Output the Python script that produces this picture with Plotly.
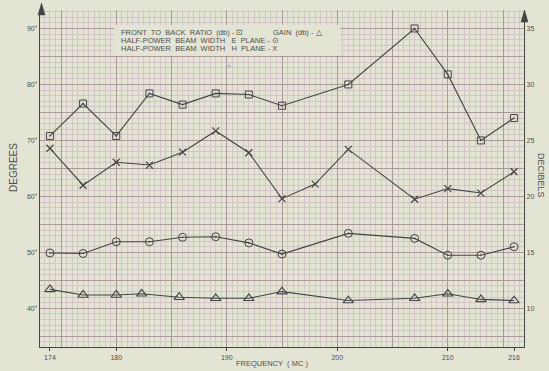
import plotly.graph_objects as go

# ---------------- data ----------------
FREQ_FBR = [174, 177, 180, 183, 186, 189, 192, 195, 201, 207, 210, 213, 216]
FBR_DB = [25.4, 28.3, 25.4, 29.2, 28.2, 29.2, 29.1, 28.1, 30.0, 35.0, 30.9, 25.0, 27.0]

FREQ_GAIN = [174, 177, 180, 182.3, 185.7, 189, 192, 195, 201, 207, 210, 213, 216]
GAIN_DB = [11.7, 11.2, 11.2, 11.3, 11.0, 10.9, 10.9, 11.5, 10.7, 10.9, 11.3, 10.8, 10.7]

FREQ_E = [174, 177, 180, 183, 186, 189, 192, 195, 201, 207, 210, 213, 216]
E_PLANE_DEG = [49.9, 49.8, 51.9, 51.9, 52.7, 52.8, 51.7, 49.7, 53.4, 52.5, 49.5, 49.5, 51.0]

FREQ_H = [174, 177, 180, 183, 186, 189, 192, 195, 198, 201, 207, 210, 213, 216]
H_PLANE_DEG = [68.6, 62.0, 66.1, 65.6, 67.9, 71.7, 67.8, 59.6, 62.2, 68.4, 59.5, 61.4, 60.6, 64.4]

FREQ_TICKS = [174, 180, 190, 200, 210, 216]
DEG_TICKS = [40, 50, 60, 70, 80, 90]
DB_TICKS = [10, 15, 20, 25, 30, 35]

# ---------------- styling ----------------
W, H = 549, 371
L, R, T, B = 40, 25, 10, 24
PAPER = "#e4e4d4"
INK = "#444444"
TXT = "#4e4e4e"
MINOR = "#d2c6c6"
MAJOR = "#ab999b"
FONT = "Liberation Sans, Arial, sans-serif"

X_RANGE = [173.1, 216.9]
Y_RANGE = [33.1, 93.3]
Y2_RANGE = [(Y_RANGE[0] - 20) / 2, (Y_RANGE[1] - 20) / 2]

PW, PH = W - L - R, H - T - B


def px(x):
    return (x - L) / PW


def py(y):
    return (H - B - y) / PH


fig = go.Figure()

line_style = dict(color=INK, width=1.1)

fig.add_trace(go.Scatter(x=FREQ_FBR, y=FBR_DB, yaxis="y2", mode="lines+markers",
                         line=line_style,
                         marker=dict(symbol="square-open-dot", size=7, color=INK,
                                     line=dict(color=INK, width=1))))
fig.add_trace(go.Scatter(x=FREQ_GAIN, y=GAIN_DB, yaxis="y2", mode="lines+markers",
                         line=line_style,
                         marker=dict(symbol="triangle-up-open", size=9, color=INK,
                                     line=dict(color=INK, width=1.1))))
fig.add_trace(go.Scatter(x=FREQ_E, y=E_PLANE_DEG, mode="lines+markers",
                         line=line_style,
                         marker=dict(symbol="circle-open-dot", size=8, color=INK,
                                     line=dict(color=INK, width=1))))
fig.add_trace(go.Scatter(x=FREQ_H, y=H_PLANE_DEG, mode="lines+markers",
                         line=line_style,
                         marker=dict(symbol="x-thin-open", size=7, color=INK,
                                     line=dict(color=INK, width=1.2))))
# carrier for the graph-paper grid axis
fig.add_trace(go.Scatter(x=[None], y=[None], xaxis="x2", mode="markers",
                         hoverinfo="skip", showlegend=False))

tickfont = dict(family=FONT, size=7, color=TXT)
grid_y_vals = list(range(35, 95, 5))
grid_y_text = [f"{v}°" if v in DEG_TICKS else "" for v in grid_y_vals]

fig.update_layout(
    width=W, height=H,
    margin=dict(l=L, r=R, t=T, b=B),
    paper_bgcolor=PAPER, plot_bgcolor=PAPER,
    showlegend=False,
    xaxis=dict(range=X_RANGE, tickmode="array", tickvals=FREQ_TICKS,
               ticktext=[str(v) for v in FREQ_TICKS], showgrid=False,
               zeroline=False, showline=True, linecolor=INK, linewidth=1.2,
               ticks="outside", ticklen=3, tickcolor=INK, tickfont=tickfont),
    xaxis2=dict(range=X_RANGE, overlaying="x", anchor="y", side="bottom",
                tickmode="linear", tick0=0, dtick=5, showgrid=True,
                gridcolor=MAJOR, gridwidth=0.9, showticklabels=False, ticks="",
                zeroline=False, showline=False,
                minor=dict(tickmode="linear", tick0=0, dtick=0.5, showgrid=True,
                           gridcolor=MINOR, gridwidth=0.5, ticks="")),
    yaxis=dict(range=Y_RANGE, tickmode="array", tickvals=grid_y_vals,
               ticktext=grid_y_text, showgrid=True, gridcolor=MAJOR, gridwidth=0.9,
               zeroline=False, showline=True, linecolor=INK, linewidth=1.2,
               ticks="", tickfont=tickfont,
               minor=dict(tickmode="linear", tick0=0, dtick=1, showgrid=True,
                          gridcolor=MINOR, gridwidth=0.5, ticks="")),
    yaxis2=dict(range=Y2_RANGE, overlaying="y", side="right", anchor="x",
                tickmode="array", tickvals=DB_TICKS,
                ticktext=[str(v) for v in DB_TICKS], showgrid=False,
                zeroline=False, showline=True, linecolor=INK, linewidth=1.2,
                ticks="", tickfont=tickfont),
)

# legend box (paper coloured, covers the grid)
fig.add_shape(type="rect", xref="paper", yref="paper",
              x0=px(114), x1=px(340), y0=py(56), y1=py(25),
              fillcolor=PAPER, line=dict(width=0), layer="above")

# axis arrows
fig.add_shape(type="path", xref="paper", yref="paper",
              path=f"M {px(41.5)} {py(3)} L {px(38)} {py(15)} L {px(45)} {py(15)} Z",
              fillcolor=INK, line=dict(color=INK, width=0.5), layer="above")
fig.add_shape(type="path", xref="paper", yref="paper",
              path=f"M {px(524.5)} {py(10)} L {px(521)} {py(22)} L {px(528)} {py(22)} Z",
              fillcolor=INK, line=dict(color=INK, width=0.5), layer="above")

legfont = dict(family=FONT, size=7.5, color=TXT)


def note(x, y, text, **kw):
    fig.add_annotation(x=px(x), y=py(y), xref="paper", yref="paper", text=text,
                       showarrow=False, xanchor=kw.pop("xanchor", "left"),
                       yanchor="middle", font=kw.pop("font", legfont),
                       borderpad=0, **kw)


note(120, 32, "FRONT  TO  BACK  RATIO  (db) - ⊡")
note(272, 32, "GAIN  (db) - △")
note(120, 40.5, "HALF-POWER  BEAM  WIDTH   E  PLANE - ⊙")
note(120, 48.5, "HALF-POWER  BEAM  WIDTH   H  PLANE - X")
note(229, 66, "∩", xanchor="center", font=dict(family=FONT, size=6, color=TXT))

note(272, 363, "FREQUENCY  ( MC )", xanchor="center",
     font=dict(family=FONT, size=7.5, color=TXT))
note(13, 168, "DEGREES", xanchor="center", textangle=-90,
     font=dict(family=FONT, size=10, color=TXT))
note(541, 175, "DECIBELS", xanchor="center", textangle=90,
     font=dict(family=FONT, size=9, color=TXT))

fig.write_html("out.html",
               config={"displayModeBar": False},
               post_script="document.body.style.margin='0';"
                           "document.body.style.background='" + PAPER + "';")
